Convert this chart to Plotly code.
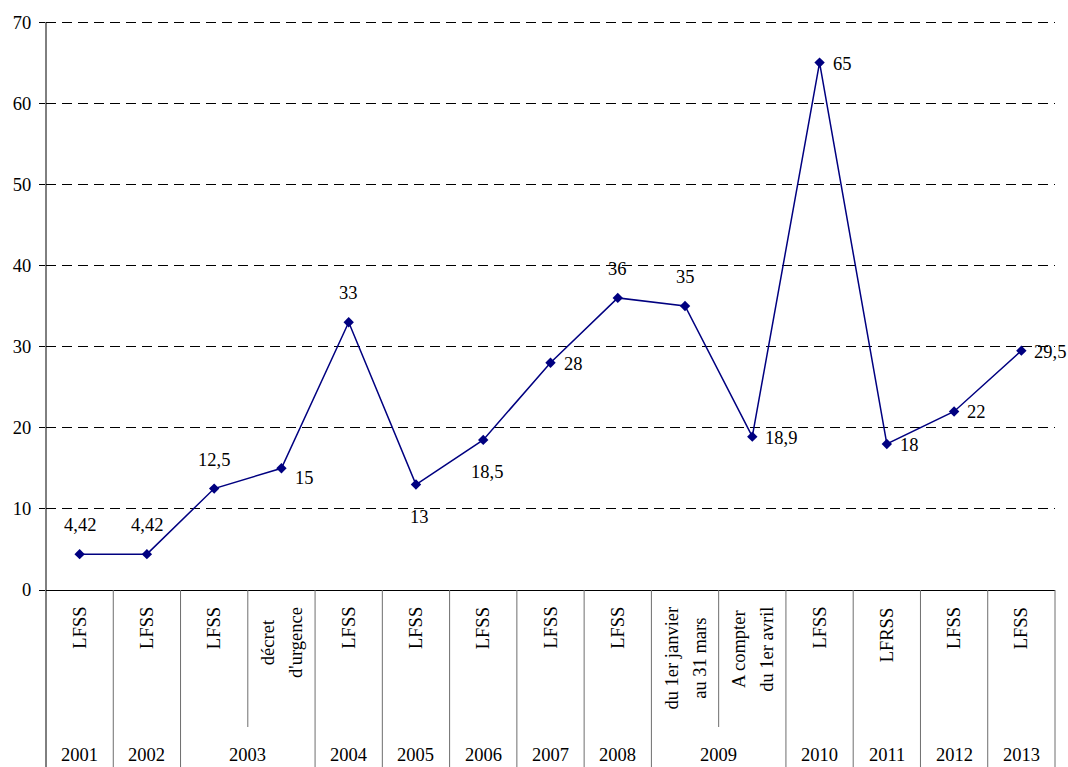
import plotly.graph_objects as go

# ---- data -------------------------------------------------------------
years = ["2001", "2002", "2003", "2003", "2004", "2005", "2006", "2007",
         "2008", "2009", "2009", "2010", "2011", "2012", "2013"]
measures = ["LFSS", "LFSS", "LFSS", "décret<br>d'urgence", "LFSS", "LFSS",
            "LFSS", "LFSS", "LFSS", "du 1er janvier<br>au 31 mars",
            "A compter<br>du 1er avril", "LFSS", "LFRSS", "LFSS", "LFSS"]
values = [4.42, 4.42, 12.5, 15, 33, 13, 18.5, 28, 36, 35, 18.9, 65, 18, 22, 29.5]
label_side = ["above", "above", "above", "lowright", "above", "below", "below",
              "right", "above", "above", "right", "right", "right", "right", "right"]
y_ticks = [0, 10, 20, 30, 40, 50, 60, 70]

# ---- layout constants ---------------------------------------------------
W, H = 1068, 767
M_L, M_R, M_T, M_B = 46, 13, 20, 177
PLOT_H = H - M_T - M_B
FONT = "Times New Roman, Liberation Serif, serif"
FS = 18.5
NAVY = "#000080"
SEP = "#6e6e6e"

n = len(values)
x_range = [-0.5, n - 0.5]
# a little headroom above 70 so the top grid line is drawn
y_range = [0, 70.25]


def py_to_paper(py):
    """Pixel row (from figure top) -> paper y coordinate."""
    return (H - M_B - py) / PLOT_H


def x_to_paper(x):
    return (x - x_range[0]) / (x_range[1] - x_range[0])


def fmt(v):
    return f"{v:g}".replace(".", ",")


fig = go.Figure()
fig.add_trace(go.Scatter(
    x=list(range(n)), y=values, mode="lines+markers",
    line=dict(color=NAVY, width=1.5),
    marker=dict(symbol="diamond", size=8, color=NAVY),
    hoverinfo="skip", showlegend=False,
))

annotations = []

# value labels next to each point
offsets = {
    "above": dict(xanchor="center", yanchor="middle", xshift=0, yshift=29),
    "below": dict(xanchor="center", yanchor="middle", xshift=4, yshift=-32),
    "right": dict(xanchor="left", yanchor="middle", xshift=11, yshift=-1),
    "lowright": dict(xanchor="left", yanchor="middle", xshift=12, yshift=-10),
}
for i, (v, side) in enumerate(zip(values, label_side)):
    annotations.append(dict(
        x=i, y=v, xref="x", yref="y", text=fmt(v), showarrow=False,
        font=dict(family=FONT, size=FS, color="black"), **offsets[side]))

# rotated measure labels under each point
cat_top = py_to_paper(605)
for i, text in enumerate(measures):
    lines = text.split("<br>")
    k = len(lines)
    for j in range(k):
        parts = [ln if idx == j else f"<span style='color:rgba(0,0,0,0)'>{ln}</span>"
                 for idx, ln in enumerate(lines)]
        annotations.append(dict(
            x=i, y=cat_top, xref="x", yref="paper", text="<br>".join(parts),
            showarrow=False, textangle=-90, align="center",
            xanchor="center", yanchor="top",
            xshift=(j - (k - 1) / 2) * 4,
            font=dict(family=FONT, size=FS, color="black")))

# year labels, centred over each run of categories
groups = []
for i, yv in enumerate(years):
    if groups and groups[-1][0] == yv:
        groups[-1][2] = i
    else:
        groups.append([yv, i, i])
for yv, a, b in groups:
    annotations.append(dict(
        x=(a + b) / 2, y=py_to_paper(755), xref="x", yref="paper", text=yv,
        showarrow=False, xanchor="center", yanchor="middle",
        font=dict(family=FONT, size=FS, color="black")))

# separator lines of the category table
shapes = []
bottom = py_to_paper(H)
short_end = py_to_paper(727)
for kb in range(1, n + 1):
    full = kb == n or years[kb] != years[kb - 1]
    xp = x_to_paper(kb - 0.5)
    shapes.append(dict(type="line", xref="paper", yref="paper",
                       x0=xp, x1=xp, y0=0, y1=bottom if full else short_end,
                       line=dict(color=SEP, width=1)))
# y axis continues down through the table
shapes.append(dict(type="line", xref="paper", yref="paper", x0=0, x1=0,
                   y0=0, y1=bottom, line=dict(color="black", width=1)))

fig.update_layout(
    width=W, height=H,
    margin=dict(l=M_L, r=M_R, t=M_T, b=M_B, pad=0),
    paper_bgcolor="white", plot_bgcolor="white",
    font=dict(family=FONT, size=FS, color="black"),
    annotations=annotations, shapes=shapes,
    xaxis=dict(range=x_range, showgrid=False, zeroline=False,
               showticklabels=False, ticks="", showline=True,
               linecolor="black", linewidth=1, fixedrange=True),
    yaxis=dict(range=y_range, tickvals=y_ticks, showgrid=True,
               gridcolor="black", gridwidth=1, griddash="10px,6px",
               zeroline=False, showline=False, fixedrange=True,
               ticks="outside", ticklen=6, tickcolor="black", tickwidth=1,
               ticklabelstandoff=4,
               tickfont=dict(family=FONT, size=FS, color="black")),
)

# the value axis line runs from the top grid line down through the table
shapes.append(dict(type="line", xref="paper", yref="y", x0=0, x1=0,
                   y0=0, y1=y_ticks[-1], line=dict(color="black", width=1)))
fig.update_layout(shapes=shapes)

fig.write_html("out.html")
